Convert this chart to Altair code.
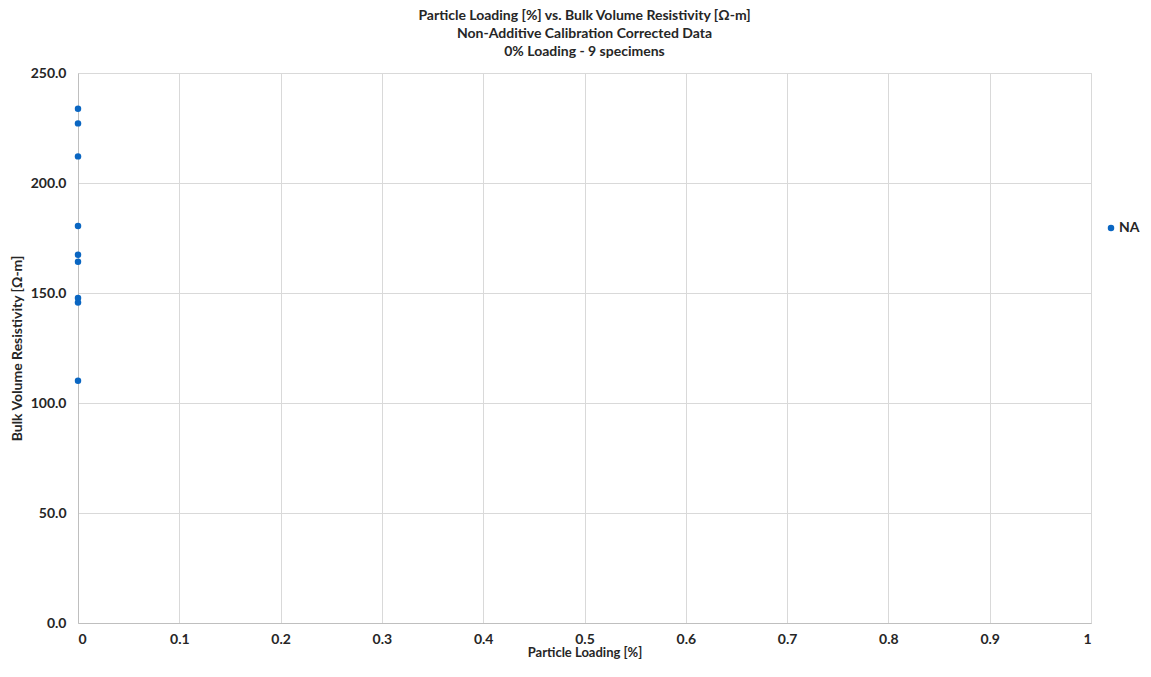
import altair as alt
import pandas as pd

loading = [0, 0, 0, 0, 0, 0, 0, 0, 0]
resistivity = [233.8, 227.1, 212.1, 180.5, 167.4, 164.2, 147.7, 145.7, 110.1]
series = ["NA"] * 9

df = pd.DataFrame({"loading": loading, "resistivity": resistivity, "series": series})

FONT = "Lato"
TXT = "#262626"

chart = alt.Chart(df).mark_circle(size=42, opacity=1).encode(
    x=alt.X("loading:Q", title="Particle Loading [%]",
            scale=alt.Scale(domain=[0, 1], nice=False),
            axis=alt.Axis(values=[0, 0.1, 0.2, 0.3, 0.4, 0.5, 0.6, 0.7, 0.8, 0.9, 1],
                          format=".1~f", ticks=False, labelPadding=9,
                          titlePadding=0, titleFontSize=13)),
    y=alt.Y("resistivity:Q", title="Bulk Volume Resistivity [Ω-m]",
            scale=alt.Scale(domain=[0, 250], nice=False),
            axis=alt.Axis(values=[0, 50, 100, 150, 200, 250], format=".1f",
                          ticks=False, labelPadding=12, titlePadding=6)),
    color=alt.Color("series:N", scale=alt.Scale(range=["#0a66c2"]),
                    legend=alt.Legend(title=None, orient="none", legendX=1026,
                                      legendY=148, padding=0, symbolSize=42,
                                      labelOffset=1,
                                      labelFontSize=14, labelFont=FONT,
                                      labelFontWeight="bold", labelColor=TXT)),
).properties(
    width=1013,
    height=550,
    title=alt.TitleParams(
        text=["Particle Loading [%] vs. Bulk Volume Resistivity [Ω-m]",
              "Non-Additive Calibration Corrected Data",
              "0% Loading - 9 specimens"],
        font=FONT, fontSize=14, fontWeight="bold", color=TXT,
        anchor="middle", lineHeight=18, offset=7),
    autosize=alt.AutoSizeParams(type="none"),
    padding={"left": 70, "top": 65, "right": 52, "bottom": 38},
).configure_axis(
    labelFont=FONT, labelFontSize=14, labelFontWeight="bold", labelColor=TXT,
    titleFont=FONT, titleFontSize=14, titleFontWeight="bold", titleColor=TXT,
    gridColor="#d9d9d9", domainColor="#bfbfbf",
).configure_view(stroke="#d9d9d9")

chart.save("out.html", embed_options={"renderer": "svg", "actions": False})
